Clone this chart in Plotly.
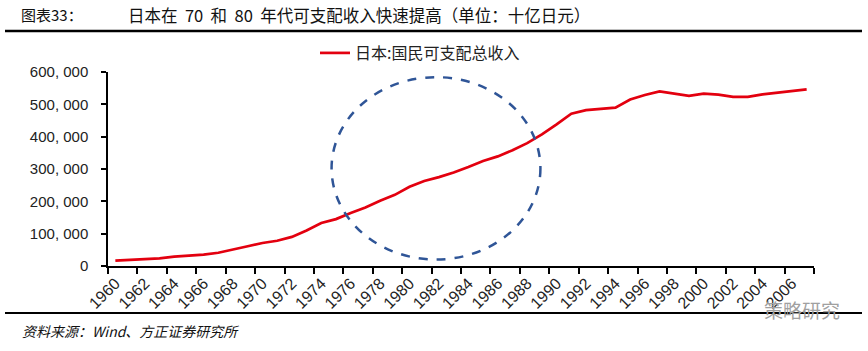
import plotly.graph_objects as go

years = list(range(1960, 2008))
income = [16500, 18600, 20600, 23700, 28900, 31000, 35000, 41000, 52000, 61000,
          71000, 78000, 90000, 110000, 133000, 145000, 164000, 181000, 202000, 220000,
          245000, 263000, 275000, 289000, 306000, 325000, 339000, 358000, 380000, 407000,
          438000, 471000, 482000, 485000, 490000, 515000, 529000, 540000, 533000, 526000,
          533000, 530000, 523000, 523000, 531000, 536000, 540000, 546000]
y_tickvals = [0, 100000, 200000, 300000, 400000, 500000, 600000]
y_ticktext = ["0", "100, 000", "200, 000", "300, 000", "400, 000", "500, 000", "600, 000"]
x_tickvals = list(range(1960, 2008, 2))
series_name = "日本:国民可支配总收入"
title_num = "图表33："
title_text = "日本在\u00a0\u00a070\u00a0\u00a0和\u00a0\u00a080\u00a0\u00a0年代可支配收入快速提高（单位：十亿日元）"
source_text = "资料来源：Wind、方正证券研究所"
watermark = "策略研究"

# ellipse highlight (data coords)
ell_x0, ell_x1 = 1974.7, 1988.9
ell_y0, ell_y1 = 20000, 584000

W, H = 868, 351
ML, MR, MT, MB = 108, 54, 72, 85
PW, PH = W - ML - MR, H - MT - MB

def px(x):
    return (x - ML) / PW

def py(y):
    return (H - MB - y) / PH

fig = go.Figure()
fig.add_trace(go.Scatter(x=years, y=income, mode="lines", name=series_name,
                         line=dict(color="#E3000F", width=2.7)))

fig.add_shape(type="circle", xref="x", yref="y", x0=ell_x0, x1=ell_x1, y0=ell_y0, y1=ell_y1,
              line=dict(color="#2F5597", width=2.5, dash="dash"), layer="above")

# title rule & footer rule
fig.add_shape(type="line", xref="paper", yref="paper", x0=px(5), x1=px(862), y0=py(31), y1=py(31),
              line=dict(color="black", width=2.5))
fig.add_shape(type="line", xref="paper", yref="paper", x0=px(5), x1=px(862), y0=py(313), y1=py(313),
              line=dict(color="black", width=2))

cjk = "Noto Sans CJK SC"
fig.add_annotation(text=title_num, xref="paper", yref="paper", x=px(19), y=py(15),
                   xanchor="left", yanchor="middle", showarrow=False,
                   font=dict(family=cjk, size=15, color="#111"))
fig.add_annotation(text=title_text, xref="paper", yref="paper", x=px(126), y=py(15),
                   xanchor="left", yanchor="middle", showarrow=False,
                   font=dict(family=cjk, size=16.5, color="#111"))
fig.add_annotation(text="<i>" + source_text + "</i>", xref="paper", yref="paper", x=px(20), y=py(331),
                   xanchor="left", yanchor="middle", showarrow=False,
                   font=dict(family=cjk, size=14, color="#111"))
fig.add_annotation(text=watermark, xref="paper", yref="paper", x=px(842), y=py(309),
                   xanchor="right", yanchor="middle", showarrow=False,
                   font=dict(family=cjk, size=19, color="#a0a0a0"))

fig.update_layout(
    width=W, height=H,
    margin=dict(l=ML, r=MR, t=MT, b=MB),
    paper_bgcolor="white", plot_bgcolor="white",
    showlegend=True,
    legend=dict(x=px(420), y=py(53), xanchor="center", yanchor="middle", orientation="h",
                font=dict(family=cjk, size=16, color="#222"), bgcolor="rgba(0,0,0,0)",
                itemwidth=30),
    xaxis=dict(range=[1959.5, 2007.5], tickvals=x_tickvals, ticktext=[str(v) for v in x_tickvals],
               tickangle=-45, ticks="", showgrid=False, zeroline=False,
               showline=True, linecolor="black", linewidth=1.5,
               tickfont=dict(family="Liberation Sans", size=16, color="#222"),
               minor=dict(tickvals=[v - 0.5 for v in x_tickvals] + [2007.5], ticks="outside",
                          ticklen=6, tickcolor="black", tickwidth=1.5)),
    yaxis=dict(range=[0, 600000], tickvals=y_tickvals, ticktext=y_ticktext,
               ticks="outside", ticklen=5, tickcolor="black", tickwidth=1.5,
               ticklabelstandoff=10,
               showgrid=False, zeroline=False, showline=True, linecolor="black", linewidth=1.5,
               tickfont=dict(family="Liberation Sans", size=15, color="#222")),
)

fig.write_html("out.html")
